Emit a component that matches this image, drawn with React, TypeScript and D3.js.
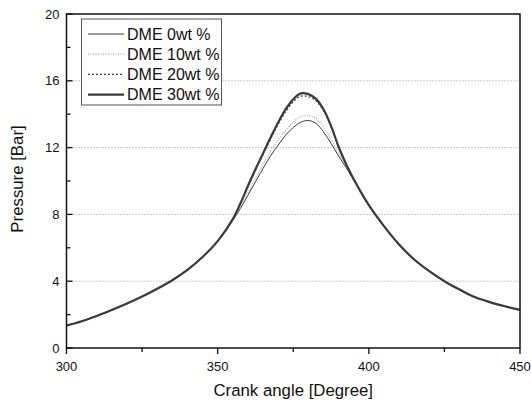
import React, { useEffect, useRef } from 'react';
import * as d3 from 'd3';

// crank angle [deg]
const angles = [300, 305, 310, 315, 320, 325, 330, 335, 340, 345, 350, 355, 357.5, 360, 362.5, 365, 367.5, 370, 372.5, 375, 377.5, 380, 382.5, 385, 387.5, 390, 392.5, 395, 400, 405, 410, 415, 420, 425, 430, 435, 440, 445, 450];

// pressure [bar]
const dme0 = [1.34, 1.6, 1.92, 2.28, 2.66, 3.08, 3.55, 4.06, 4.68, 5.45, 6.4, 7.65, 8.35, 9.15, 9.95, 10.75, 11.5, 12.15, 12.75, 13.2, 13.52, 13.62, 13.45, 12.95, 12.25, 11.5, 10.8, 10.05, 8.55, 7.3, 6.2, 5.3, 4.6, 4.0, 3.5, 3.05, 2.75, 2.5, 2.28];
const dme10 = [1.34, 1.6, 1.92, 2.28, 2.66, 3.08, 3.55, 4.06, 4.68, 5.45, 6.4, 7.67, 8.45, 9.3, 10.15, 11.0, 11.8, 12.45, 13.05, 13.52, 13.85, 13.92, 13.75, 13.25, 12.5, 11.7, 10.9, 10.07, 8.55, 7.3, 6.2, 5.3, 4.6, 4.0, 3.5, 3.05, 2.75, 2.5, 2.28];
const dme20 = [1.34, 1.6, 1.92, 2.28, 2.66, 3.08, 3.55, 4.06, 4.68, 5.45, 6.4, 7.72, 8.65, 9.65, 10.65, 11.6, 12.5, 13.4, 14.15, 14.75, 15.08, 15.05, 14.8, 14.2, 13.25, 12.05, 11.0, 10.1, 8.55, 7.3, 6.2, 5.3, 4.6, 4.0, 3.5, 3.05, 2.75, 2.5, 2.28];
const dme30 = [1.34, 1.6, 1.92, 2.28, 2.66, 3.08, 3.55, 4.06, 4.68, 5.45, 6.4, 7.72, 8.65, 9.7, 10.7, 11.65, 12.6, 13.5, 14.3, 14.9, 15.25, 15.2, 14.92, 14.3, 13.3, 12.05, 11.0, 10.1, 8.55, 7.3, 6.2, 5.3, 4.6, 4.0, 3.5, 3.05, 2.75, 2.5, 2.28];

const seriesNames = ['DME 0wt %', 'DME 10wt %', 'DME 20wt %', 'DME 30wt %'];
const xTicks = [300, 350, 400, 450];
const xMinor = [325, 375, 425];
const yTicks = [0, 4, 8, 12, 16, 20];
const yMinor = [2, 6, 10, 14, 18];
const gridValues = [4, 8, 12, 16];

const styles = [
  { color: '#3a3a3a', width: 1, dash: null },
  { color: '#a8a8a8', width: 1.2, dash: '1,1.5' },
  { color: '#3a3a3a', width: 1.2, dash: '2,2' },
  { color: '#3a3a3a', width: 2.2, dash: null },
];

const App = () => {
  const ref = useRef<SVGSVGElement>(null);

  useEffect(() => {
    const W = 531, H = 403;
    const left = 66.5, right = 520, top = 14, bottom = 348;
    const svg = d3.select(ref.current);
    svg.selectAll('*').remove();

    const x = d3.scaleLinear().domain([300, 450]).range([left, right]);
    const y = d3.scaleLinear().domain([0, 20]).range([bottom, top]);

    svg.append('rect').attr('width', W).attr('height', H).attr('fill', 'white');

    // grid
    svg.append('g').selectAll('line').data(gridValues).enter().append('line')
      .attr('x1', left).attr('x2', right)
      .attr('y1', d => y(d)).attr('y2', d => y(d))
      .attr('stroke', '#999').attr('stroke-width', 1).attr('stroke-dasharray', '1,2');

    // curves
    const all = [dme0, dme10, dme20, dme30];
    const line = d3.line<number>()
      .x((d, i) => x(angles[i]))
      .y(d => y(d))
      .curve(d3.curveCatmullRom.alpha(0.5));

    svg.append('g').selectAll('path').data(all).enter().append('path')
      .attr('d', d => line(d))
      .attr('fill', 'none')
      .attr('stroke', (d, i) => styles[i].color)
      .attr('stroke-width', (d, i) => styles[i].width)
      .attr('stroke-dasharray', (d, i) => styles[i].dash);

    // frame
    svg.append('rect')
      .attr('x', left).attr('y', top)
      .attr('width', right - left).attr('height', bottom - top)
      .attr('fill', 'none').attr('stroke', '#111').attr('stroke-width', 1.5);

    // x ticks (outward)
    const ax = svg.append('g').attr('stroke', '#111').attr('stroke-width', 1.3);
    ax.selectAll('.xmaj').data(xTicks).enter().append('line')
      .attr('x1', d => x(d)).attr('x2', d => x(d))
      .attr('y1', bottom).attr('y2', bottom + 6);
    ax.selectAll('.xmin').data(xMinor).enter().append('line')
      .attr('x1', d => x(d)).attr('x2', d => x(d))
      .attr('y1', bottom).attr('y2', bottom + 4);
    // y ticks (inward)
    ax.selectAll('.ymaj').data(yTicks).enter().append('line')
      .attr('x1', left).attr('x2', left + 6)
      .attr('y1', d => y(d)).attr('y2', d => y(d));
    ax.selectAll('.ymin').data(yMinor).enter().append('line')
      .attr('x1', left).attr('x2', left + 4)
      .attr('y1', d => y(d)).attr('y2', d => y(d));

    const font = 'Arial, "Liberation Sans", sans-serif';

    svg.append('g').selectAll('text').data(xTicks).enter().append('text')
      .attr('x', d => x(d)).attr('y', 370.5)
      .attr('text-anchor', 'middle')
      .attr('font-family', font).attr('font-size', 13).attr('fill', '#111')
      .text(d => d);

    svg.append('g').selectAll('text').data(yTicks).enter().append('text')
      .attr('x', 59.5).attr('y', d => y(d) + 4.5)
      .attr('text-anchor', 'end')
      .attr('font-family', font).attr('font-size', 13).attr('fill', '#111')
      .text(d => d);

    svg.append('text')
      .attr('x', (left + right) / 2).attr('y', 395.5)
      .attr('text-anchor', 'middle')
      .attr('font-family', font).attr('font-size', 16.8).attr('fill', '#111')
      .text('Crank angle [Degree]');

    svg.append('text')
      .attr('transform', `translate(23,${(top + bottom) / 2 - 2}) rotate(-90)`)
      .attr('text-anchor', 'middle')
      .attr('font-family', font).attr('font-size', 16.8).attr('fill', '#111')
      .text('Pressure [Bar]');

    // legend
    const lg = svg.append('g');
    lg.append('rect')
      .attr('x', 81.5).attr('y', 19)
      .attr('width', 140).attr('height', 86)
      .attr('fill', 'white').attr('stroke', '#555').attr('stroke-width', 1);
    const rowY = (i: number) => 34 + i * 20.2;
    seriesNames.forEach((name, i) => {
      lg.append('line')
        .attr('x1', 88).attr('x2', 124)
        .attr('y1', rowY(i)).attr('y2', rowY(i))
        .attr('stroke', styles[i].color)
        .attr('stroke-width', styles[i].width)
        .attr('stroke-dasharray', styles[i].dash);
      lg.append('text')
        .attr('x', 127).attr('y', rowY(i) + 5.7)
        .attr('font-family', font).attr('font-size', 16).attr('fill', '#111')
        .text(name);
    });
  }, []);

  return (
    <svg ref={ref} width={531} height={403} style={{ position: 'absolute', left: 0, top: 0 }} />
  );
};

export default App;
